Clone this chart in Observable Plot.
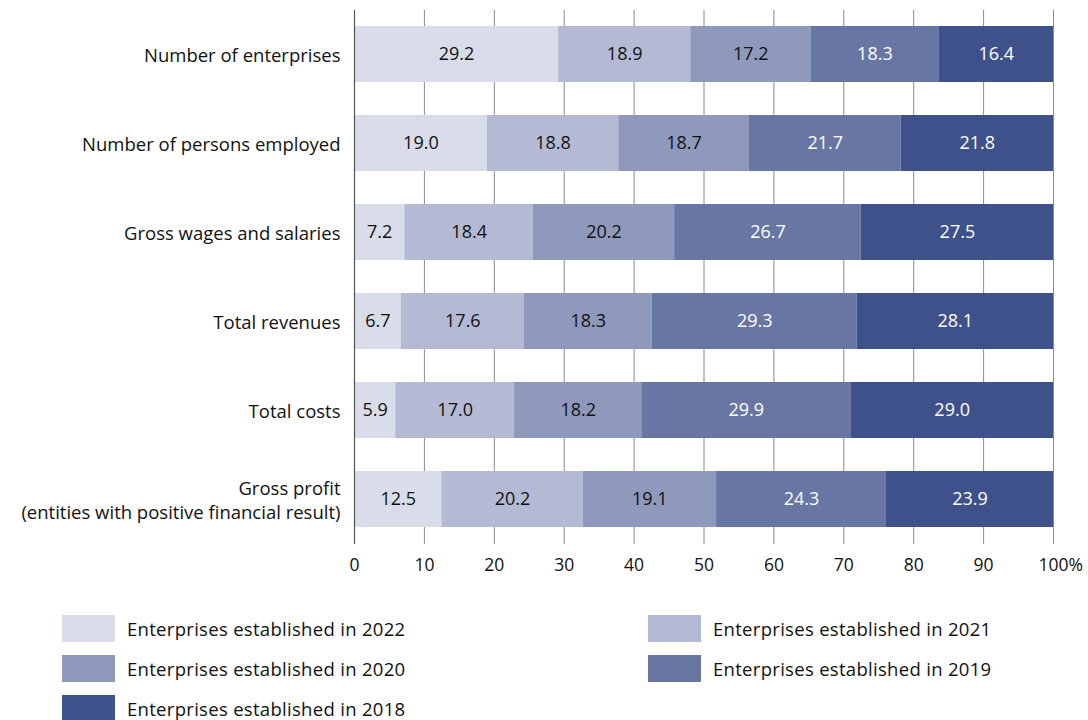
<!DOCTYPE html>
<html>
<head>
<meta charset="utf-8">
<script src="https://cdn.jsdelivr.net/npm/d3@7"></script>
<script src="https://cdn.jsdelivr.net/npm/@observablehq/plot@0.6"></script>
<style>
  body { margin: 0; background: #fff; font-family: "Open Sans", sans-serif; }
  #chart { position: relative; width: 1088px; }
  .legend { position: relative; width: 1088px; height: 140px; }
  .item { position: absolute; display: flex; align-items: center; font-size: 18.5px; letter-spacing: 0.3px; color: #111; }
  .sw { width: 53px; height: 27px; margin-right: 12px; }
</style>
</head>
<body>
<div id="chart"></div>
<div class="legend" id="legend"></div>
<script>
const categories = [
  "Number of enterprises",
  "Number of persons employed",
  "Gross wages and salaries",
  "Total revenues",
  "Total costs",
  "Gross profit\n(entities with positive financial result)"
];
const seriesNames = [
  "Enterprises established in 2022",
  "Enterprises established in 2021",
  "Enterprises established in 2020",
  "Enterprises established in 2019",
  "Enterprises established in 2018"
];
const colors = ["#d9dde9", "#b4bad3", "#8e99bb", "#6776a3", "#3f518a"];
const labelColors = ["#111", "#111", "#111", "#fff", "#fff"];
const s2022 = [29.2, 19.0, 7.2, 6.7, 5.9, 12.5];
const s2021 = [18.9, 18.8, 18.4, 17.6, 17.0, 20.2];
const s2020 = [17.2, 18.7, 20.2, 18.3, 18.2, 19.1];
const s2019 = [18.3, 21.7, 26.7, 29.3, 29.9, 24.3];
const s2018 = [16.4, 21.8, 27.5, 28.1, 29.0, 23.9];
const xTicks = [0, 10, 20, 30, 40, 50, 60, 70, 80, 90, 100];

const seriesValues = [s2022, s2021, s2020, s2019, s2018];
const data = [];
seriesNames.forEach((s, si) => {
  categories.forEach((c, ci) => {
    data.push({category: c, series: s, value: seriesValues[si][ci], si});
  });
});

const stackOpts = {x: "value", y: "category", z: "series", order: seriesNames};

const plot = Plot.plot({
  width: 1088,
  height: 580,
  marginLeft: 354,
  marginRight: 35,
  marginTop: 10,
  marginBottom: 36,
  style: {fontFamily: "'Open Sans', sans-serif", fontSize: "18px", color: "#111", background: "#fff"},
  x: {domain: [0, 100], axis: null, label: null},
  y: {domain: categories, paddingInner: 0.37, paddingOuter: 0.185, axis: null, label: null},
  color: {domain: seriesNames, range: colors},
  marks: [
    Plot.ruleX(xTicks.slice(1), {stroke: "#8a8a8a", strokeWidth: 1}),
    Plot.barX(data, Plot.stackX({...stackOpts, fill: "series"})),
    Plot.text(data, Plot.stackX({...stackOpts, text: d => d.value.toFixed(1), fill: d => labelColors[d.si], fontSize: 18})),
    Plot.ruleX([0], {stroke: "#555", strokeWidth: 1.2}),
    Plot.axisY({tickSize: 0, tickPadding: 14, fontSize: 18.5, lineHeight: 1.3, label: null}),
    Plot.axisX(xTicks, {tickSize: 0, tickPadding: 14, fontSize: 17.5, tickFormat: d => String(d), label: null}),
    Plot.text([100], {x: d => d, frameAnchor: "bottom", dy: 14, dx: 15, lineAnchor: "top", textAnchor: "start", text: () => "%", fontSize: 17.5, fill: "#111"})
  ]
});
document.getElementById("chart").appendChild(plot);

const legend = document.getElementById("legend");
const positions = [[62, 48], [648, 48], [62, 88], [648, 88], [62, 128]];
seriesNames.forEach((s, i) => {
  const item = document.createElement("div");
  item.className = "item";
  item.style.left = positions[i][0] + "px";
  item.style.top = (positions[i][1] - 13.5) + "px";
  item.innerHTML = `<div class="sw" style="background:${colors[i]}"></div><span>${s}</span>`;
  legend.appendChild(item);
});
</script>
</body>
</html>
